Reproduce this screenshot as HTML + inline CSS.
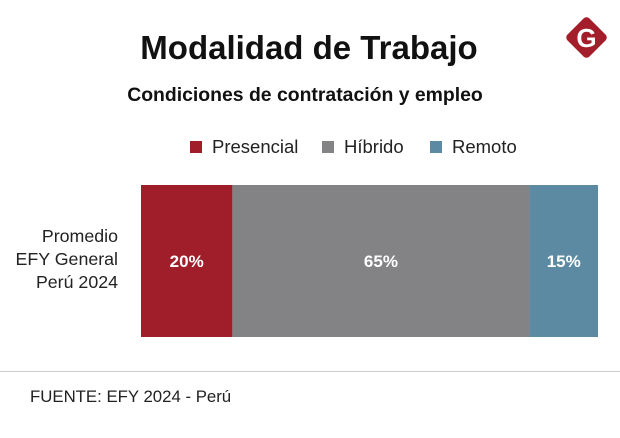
<!DOCTYPE html>
<html><head><meta charset="utf-8"><style>
body{margin:0;background:#fff;font-family:"Liberation Sans",sans-serif;}
#c{position:relative;width:620px;height:438px;overflow:hidden;}
</style></head><body>
<div id="c">
<svg width="620" height="438">
<text x="309" y="59" text-anchor="middle" font-size="33" font-weight="bold" fill="#111">Modalidad de Trabajo</text>
<text x="305" y="101" text-anchor="middle" font-size="19.4" font-weight="bold" fill="#111">Condiciones de contratación y empleo</text>
<g>
<rect x="571" y="22" width="31" height="31" rx="4" fill="#a31d2b" transform="rotate(45 586.5 37.5)"/>
<text x="586.5" y="47" text-anchor="middle" font-size="26" font-weight="bold" fill="#fff">G</text>
</g>
<g id="legend"></g>
<g id="bars"></g>
<text x="118" y="242" text-anchor="end" font-size="17.8" fill="#222">Promedio</text>
<text x="118" y="265" text-anchor="end" font-size="17.8" fill="#222">EFY General</text>
<text x="118" y="288" text-anchor="end" font-size="17.8" fill="#222">Perú 2024</text>
<line x1="0" y1="371.5" x2="620" y2="371.5" stroke="#ccc" stroke-width="1"/>
<text x="30" y="402" font-size="16.8" fill="#222">FUENTE: EFY 2024 - Perú</text>
</svg>
</div>
<script>
const categories=["Presencial","Híbrido","Remoto"];
const values=[20,65,15];
const labels=["20%","65%","15%"];
const colors=["#a01e2a","#838386","#5d8aa3"];
const ns="http://www.w3.org/2000/svg";
const x0=141,x1=598,y0=185,y1=337;
const total=values.reduce((a,b)=>a+b,0);
const xs=v=>x0+(x1-x0)*v/total;
const bars=document.getElementById('bars');
let acc=0;
values.forEach((v,i)=>{
  const r=document.createElementNS(ns,'rect');
  r.setAttribute('x',xs(acc));r.setAttribute('y',y0);
  r.setAttribute('width',xs(acc+v)-xs(acc));r.setAttribute('height',y1-y0);
  r.setAttribute('fill',colors[i]);
  
  
  bars.appendChild(r);
  const t=document.createElementNS(ns,'text');
  t.setAttribute('x',(xs(acc)+xs(acc+v))/2);t.setAttribute('y',(y0+y1)/2+6);
  t.setAttribute('text-anchor','middle');t.setAttribute('font-size','17');
  t.setAttribute('font-weight','bold');t.setAttribute('fill','#fff');
  t.textContent=labels[i];
  
  
  bars.appendChild(t);
  acc+=v;
});
const lg=document.getElementById('legend');
const lx=[190,322,430];
categories.forEach((c,i)=>{
  const r=document.createElementNS(ns,'rect');
  r.setAttribute('x',lx[i]);r.setAttribute('y',141);r.setAttribute('width',12);r.setAttribute('height',12);
  r.setAttribute('fill',colors[i]);
  
  
  lg.appendChild(r);
  const t=document.createElementNS(ns,'text');
  t.setAttribute('x',lx[i]+22);t.setAttribute('y',153);t.setAttribute('font-size','18.5');t.setAttribute('fill','#222');
  t.textContent=c;
  
  
  lg.appendChild(t);
});
</script>
</body></html>
